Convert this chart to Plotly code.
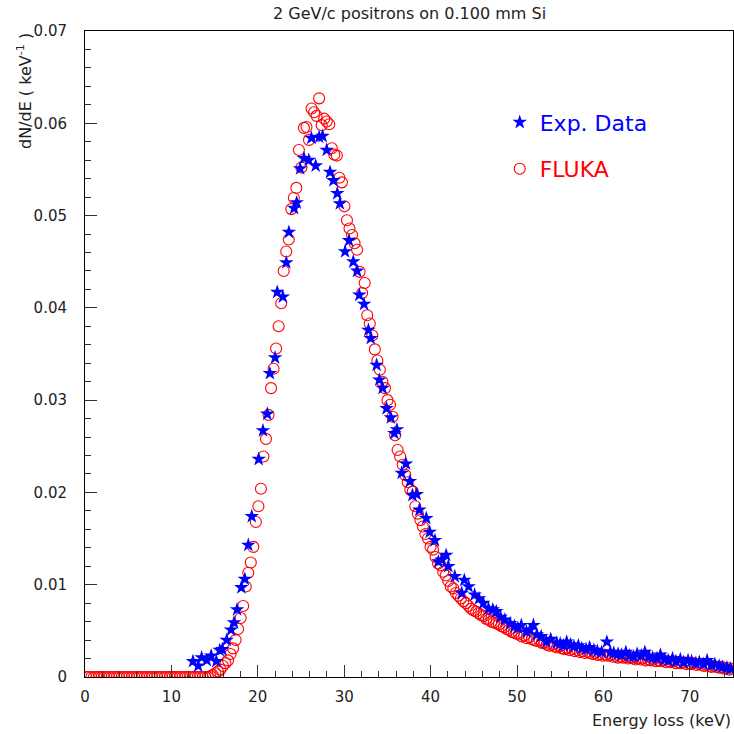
import numpy as np
import plotly.graph_objects as go

# ---------------- data ----------------
# FLUKA histogram: 256 bins over 0-75 keV
fluka_bin_width = 75.0 / 256
fluka_y = [
    # bins 0-49 (0 - 14.6 keV)
    0, 0, 0, 0, 0, 0, 0, 0, 0, 0,
    0, 0, 0, 0, 0, 0, 0, 0, 0, 0,
    0, 0, 0, 0, 0, 0, 0, 0, 0, 0,
    0, 0, 0, 0, 0, 0, 0, 0, 0, 0,
    0, 0, 0, 0, 0, 0, 0, 0, 0, 0.0001,
    # bins 50-99
    0.0002, 0.0004, 0.0006, 0.0008, 0.0012, 0.0015, 0.0018, 0.0025, 0.0031, 0.0040,
    0.0052, 0.0064, 0.0077, 0.0098, 0.0113, 0.0124, 0.0141, 0.0168, 0.0185, 0.0204,
    0.0239, 0.0258, 0.0284, 0.0313, 0.0334, 0.0356, 0.0380, 0.0405, 0.0440, 0.0461,
    0.0474, 0.0507, 0.0519, 0.0530, 0.0571, 0.0552, 0.0595, 0.0596, 0.0582, 0.0616,
    0.0612, 0.0608, 0.0627, 0.0598, 0.0605, 0.0602, 0.0599, 0.0573, 0.0566, 0.0565,
    # bins 100-149
    0.0541, 0.0536, 0.0510, 0.0495, 0.0486, 0.0479, 0.0470, 0.0463, 0.0439, 0.0416,
    0.0427, 0.0392, 0.0383, 0.0370, 0.0355, 0.0343, 0.0333, 0.0320, 0.0313, 0.0300,
    0.0295, 0.0282, 0.0262, 0.0246, 0.0239, 0.0230, 0.0219, 0.0211, 0.0203, 0.0201,
    0.0185, 0.0177, 0.0170, 0.0163, 0.0155, 0.0150, 0.0141, 0.0138, 0.0130, 0.0123,
    0.0121, 0.0114, 0.0110, 0.0104, 0.0098, 0.0096, 0.0091, 0.0088, 0.0085, 0.0082,
    # bins 150-199
    0.0080, 0.0077, 0.0074, 0.0072, 0.0071, 0.0069, 0.0067, 0.0066, 0.0063, 0.0062,
    0.0060, 0.0059, 0.0058, 0.0057, 0.0055, 0.0054, 0.0052, 0.0051, 0.0049, 0.0048,
    0.0047, 0.0046, 0.0044, 0.0045, 0.0042, 0.0043, 0.0041, 0.0040, 0.0039, 0.0040,
    0.0037, 0.0037, 0.0035, 0.0034, 0.0035, 0.0033, 0.0032, 0.0033, 0.0031, 0.0030,
    0.0031, 0.0029, 0.0030, 0.0028, 0.0029, 0.0027, 0.0028, 0.0026, 0.0027, 0.0026,
    # bins 200-255
    0.0025, 0.0026, 0.0024, 0.0025, 0.0023, 0.0024, 0.0023, 0.0024, 0.0022, 0.0023,
    0.0021, 0.0022, 0.0021, 0.0022, 0.0020, 0.0021, 0.0020, 0.0019, 0.0020, 0.0019,
    0.0020, 0.0018, 0.0019, 0.0018, 0.0019, 0.0017, 0.0018, 0.0017, 0.0018, 0.0016,
    0.0017, 0.0016, 0.0017, 0.0015, 0.0016, 0.0015, 0.0016, 0.0014, 0.0015, 0.0014,
    0.0015, 0.0013, 0.0014, 0.0013, 0.0012, 0.0013, 0.0012, 0.0011, 0.0012, 0.0011,
    0.0010, 0.0011, 0.0009, 0.0010, 0.0008, 0.0009,
]
fluka_x = (np.arange(len(fluka_y)) + 0.5) * fluka_bin_width

# Experimental data (energy loss in keV, dN/dE)
exp_x = [
    12.5, 13.1, 13.5, 14.1, 14.6, 15.2, 15.6, 15.9, 16.4, 16.9,
    17.25, 17.6, 18.1, 18.5, 18.9, 19.3, 20.1, 20.6, 21.1, 21.4,
    22.0, 22.25, 22.9, 23.3, 23.6, 24.2, 24.5, 24.9, 25.35, 25.9,
    26.2, 26.7, 27.1, 27.5, 27.97, 28.36, 28.75, 29.2, 29.5, 30.1,
    30.56, 31.05, 31.5, 31.75, 32.3, 32.8, 33.07, 33.75, 34.06, 34.45,
    34.9, 35.4, 35.8, 36.1, 36.65, 37.15, 37.6, 37.9, 38.4, 38.7,
    39.5, 39.9, 40.5, 40.9, 41.3, 41.8, 42.05, 42.8, 43.6, 43.9,
    44.4, 45.1, 45.6, 46.1, 46.7, 47.2, 47.6, 48.1, 48.6, 49.2,
    49.7, 50.1, 50.5, 51.1, 51.5, 51.9, 52.3, 52.8, 53.4, 53.9,
    54.6, 55.0, 55.4, 55.75, 56.2, 56.6, 57.1, 57.5, 58.0, 58.4,
    58.9, 59.3, 59.8, 60.4, 60.8, 61.2, 61.7, 62.1, 62.6, 63.0,
    63.5, 63.9, 64.4, 64.8, 65.3, 65.7, 66.2, 66.6, 67.1, 67.5,
    68.0, 68.4, 68.9, 69.3, 69.8, 70.2, 70.7, 71.1, 71.6, 72.0,
    72.5, 72.9, 73.4, 73.8, 74.3, 74.7,
]
exp_y = [
    0.0017, 0.0012, 0.0021, 0.0018, 0.0023, 0.0017, 0.0029, 0.0030, 0.0040, 0.0051,
    0.0059, 0.0073, 0.0097, 0.0106, 0.0143, 0.0174, 0.0236, 0.0267, 0.0285, 0.0329,
    0.0346, 0.0417, 0.0412, 0.0449, 0.0482, 0.0508, 0.0514, 0.0551, 0.0562, 0.0560,
    0.0584, 0.0554, 0.0585, 0.0586, 0.0571, 0.0547, 0.0538, 0.0524, 0.0513, 0.0461,
    0.0473, 0.0450, 0.0440, 0.0414, 0.0404, 0.0376, 0.0367, 0.0338, 0.0322, 0.0313,
    0.0291, 0.0281, 0.0264, 0.0268, 0.0221, 0.0231, 0.0212, 0.0197, 0.0198, 0.0181,
    0.0172, 0.0157, 0.0148, 0.0125, 0.0127, 0.0132, 0.0120, 0.0109, 0.0091, 0.0105,
    0.0098, 0.0089, 0.0085, 0.0080, 0.0074, 0.0073, 0.0071, 0.0065, 0.0062, 0.0058,
    0.0055, 0.0053, 0.0056, 0.0049, 0.0051, 0.0056, 0.0046, 0.0044, 0.0038, 0.0041,
    0.0037, 0.0036, 0.0034, 0.0038, 0.0035, 0.0033, 0.0034, 0.0031, 0.0030, 0.0032,
    0.0029, 0.0028, 0.0027, 0.0038, 0.0027, 0.0026, 0.0025, 0.0024, 0.0027, 0.0023,
    0.0022, 0.0025, 0.0023, 0.0027, 0.0022, 0.0021, 0.0020, 0.0024, 0.0019, 0.0018,
    0.0020, 0.0017, 0.0019, 0.0016, 0.0018, 0.0017, 0.0015, 0.0016, 0.0014, 0.0018,
    0.0013, 0.0014, 0.0012, 0.0011, 0.0010, 0.0009,
]

x_ticks = [0, 10, 20, 30, 40, 50, 60, 70]
y_ticks = [0, 0.01, 0.02, 0.03, 0.04, 0.05, 0.06, 0.07]
y_ticklabels = ["0", "0.01", "0.02", "0.03", "0.04", "0.05", "0.06", "0.07"]

title_text = "2 GeV/c positrons on 0.100 mm Si"
x_title = "Energy loss (keV)"
y_title = "dN/dE ( keV<sup>-1</sup> )"

# ---------------- figure ----------------
FONT = "DejaVu Sans, Liberation Sans, sans-serif"
TXT = "#222222"
fig = go.Figure()

fig.add_trace(go.Scatter(
    x=fluka_x, y=fluka_y, mode="markers",
    name="<span style='color:#ff0000'>FLUKA</span>",
    legendrank=2, legendgroup="fluka",
    marker=dict(symbol="circle-open", size=11, color="#ff0000",
                line=dict(width=1.1, color="#ff0000")),
))
fig.add_trace(go.Scatter(
    x=exp_x, y=exp_y, mode="markers",
    name="<span style='color:#0000ff'>Exp. Data</span>",
    legendrank=1, legendgroup="exp",
    marker=dict(symbol="star", size=11, color="#0000ff",
                line=dict(width=0)),
))

fig.update_layout(
    width=734, height=734,
    margin=dict(l=85, r=1, t=31, b=57, autoexpand=False),
    paper_bgcolor="white", plot_bgcolor="white",
    font=dict(family=FONT, size=14, color=TXT),
    showlegend=True,
    legend=dict(
        x=0.64, y=0.891, xanchor="left", yanchor="top",
        traceorder="grouped", tracegroupgap=15,
        font=dict(size=22, family=FONT),
        bgcolor="rgba(0,0,0,0)", borderwidth=0,
    ),
    xaxis=dict(
        range=[0, 75], tickvals=x_ticks, ticks="inside", ticklen=12,
        tickcolor="#333333", showline=True, linecolor="black", linewidth=1,
        mirror=True, showgrid=False, zeroline=False,
        ticklabelstandoff=6,
        tickfont=dict(size=15, family=FONT, color=TXT),
        minor=dict(dtick=2, ticks="inside", ticklen=6, tickcolor="#333333"),
    ),
    yaxis=dict(
        range=[0, 0.07], tickvals=y_ticks, ticktext=y_ticklabels,
        ticks="inside", ticklen=12, tickcolor="#333333",
        showline=True, linecolor="black", linewidth=1, mirror=True,
        showgrid=False, zeroline=False,
        ticklabelstandoff=14,
        tickfont=dict(size=15, family=FONT, color=TXT),
        minor=dict(dtick=0.002, ticks="inside", ticklen=6, tickcolor="#333333"),
    ),
    annotations=[
        dict(text=title_text, xref="paper", yref="paper", x=0.5, y=1,
             yshift=18, xanchor="center", yanchor="middle", showarrow=False,
             font=dict(size=16, family=FONT, color=TXT)),
        dict(text=x_title, xref="paper", yref="paper", x=1, y=0,
             yshift=-43, xanchor="right", yanchor="middle", showarrow=False,
             font=dict(size=16, family=FONT, color=TXT)),
        dict(text=y_title, xref="paper", yref="paper", x=0, y=1,
             xshift=-61, xanchor="center", yanchor="top", textangle=-90,
             showarrow=False,
             font=dict(size=16, family=FONT, color=TXT)),
    ],
)

fig.write_html(
    "out.html",
    config={"responsive": False, "displayModeBar": False},
    post_script="document.body.style.margin='0px';document.body.style.overflow='hidden';",
)
